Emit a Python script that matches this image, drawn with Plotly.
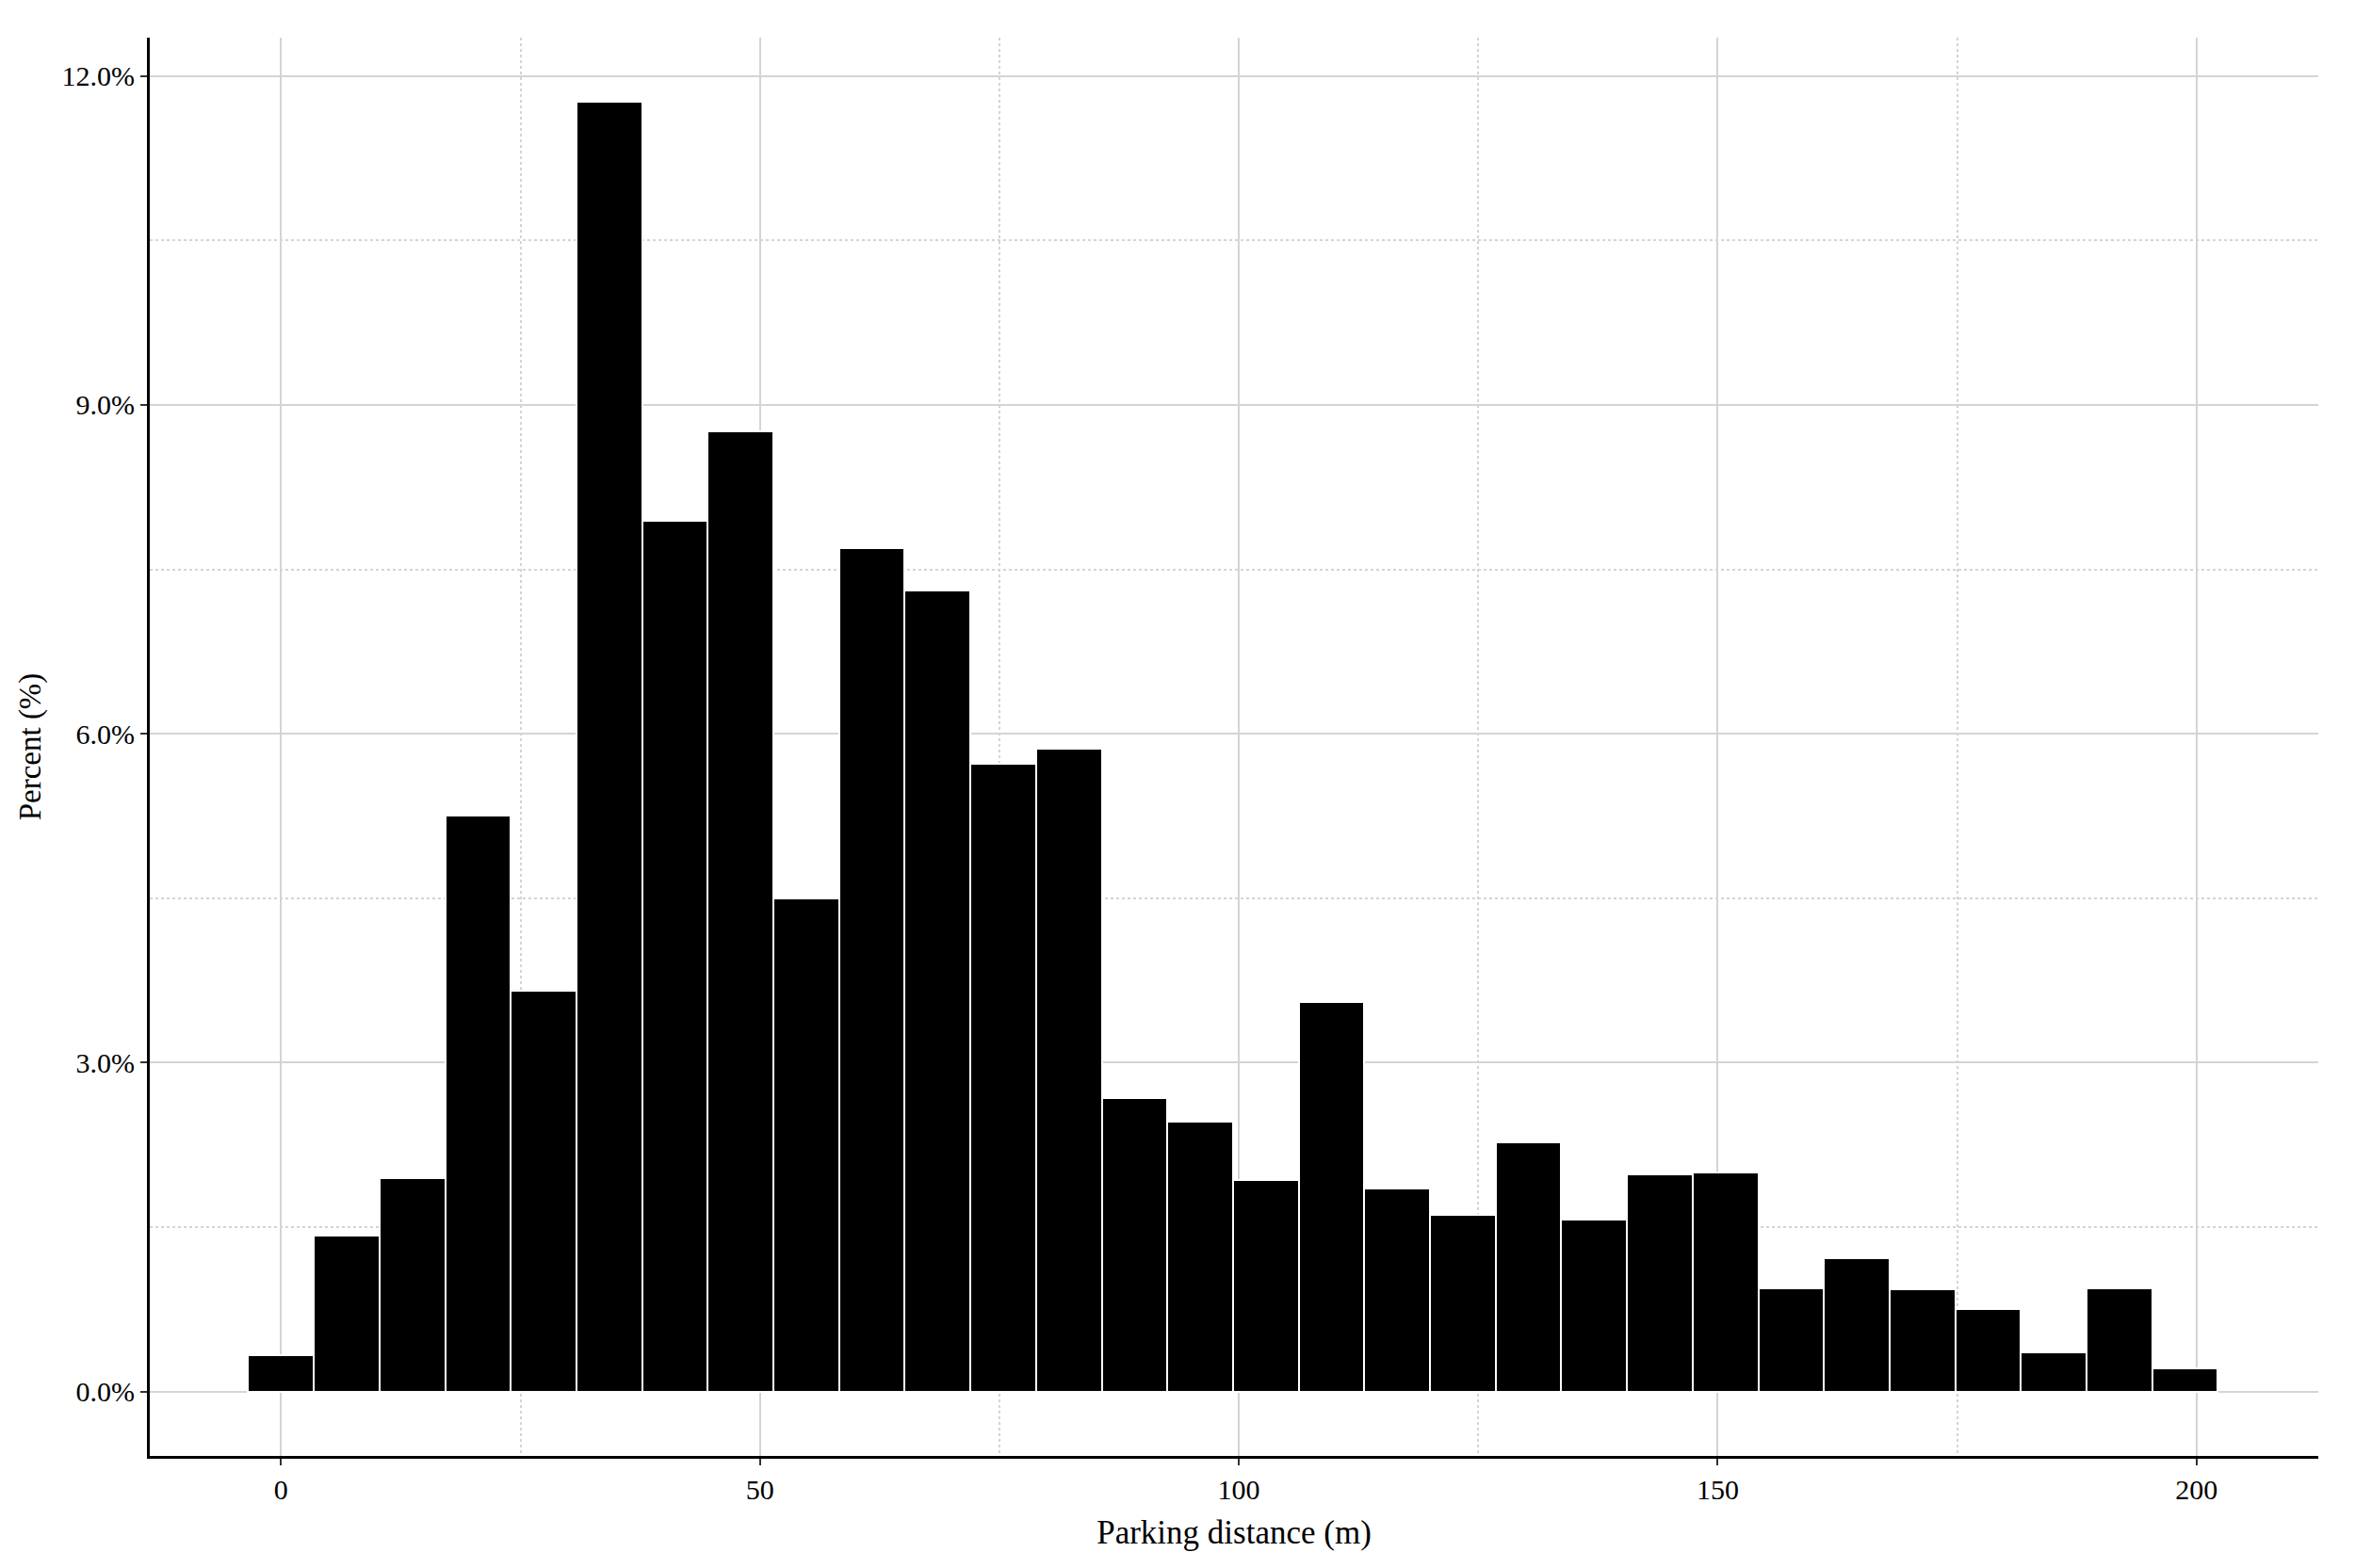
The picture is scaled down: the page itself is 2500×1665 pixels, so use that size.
import plotly.graph_objects as go

# histogram of parking distance, 30 bins (ggplot style, first bin centred on 0)
bin_width = 6.855
bin_index = list(range(30))
percent = [0.33, 1.42, 1.95, 5.25, 3.66, 11.77, 7.94, 8.76, 4.50, 7.69,
           7.31, 5.73, 5.86, 2.68, 2.46, 1.93, 3.55, 1.85, 1.61, 2.27,
           1.57, 1.98, 2.00, 0.94, 1.22, 0.93, 0.75, 0.36, 0.94, 0.21]
x_ticks = [0, 50, 100, 150, 200]
y_ticks = [0, 3, 6, 9, 12]
y_tick_labels = ["0.0%", "3.0%", "6.0%", "9.0%", "12.0%"]

centers = [i * bin_width for i in bin_index]

fig = go.Figure()
fig.add_trace(go.Bar(
    x=centers, y=percent, width=bin_width,
    marker=dict(color="black", line=dict(color="white", width=2)),
    showlegend=False,
))

font_family = "Liberation Serif"
grid_col = "#d4d4d4"

fig.update_layout(
    width=2500, height=1665,
    plot_bgcolor="white", paper_bgcolor="white",
    margin=dict(l=151, r=47, t=32, b=127),
    font=dict(family=font_family, color="black", size=30),
    bargap=0,
    xaxis=dict(
        range=[-13.7, 212.7],
        tickvals=x_ticks,
        ticks="outside", ticklen=7, tickwidth=2, tickcolor="#333333",
        showline=True, linecolor="black", linewidth=3,
        showgrid=True, gridcolor=grid_col, gridwidth=1.5,
        zeroline=False,
        minor=dict(tickvals=[25, 75, 125, 175], showgrid=True,
                   gridcolor=grid_col, griddash="dot", gridwidth=2, ticks=""),
        title=dict(text="Parking distance (m)", font=dict(size=35), standoff=18),
        tickfont=dict(size=30),
    ),
    yaxis=dict(
        range=[-0.588, 12.35],
        tickvals=y_ticks, ticktext=y_tick_labels,
        ticks="outside", ticklen=7, tickwidth=2, tickcolor="#333333",
        showline=True, linecolor="black", linewidth=3,
        showgrid=True, gridcolor=grid_col, gridwidth=1.5,
        zeroline=False,
        minor=dict(tickvals=[1.5, 4.5, 7.5, 10.5], showgrid=True,
                   gridcolor=grid_col, griddash="dot", gridwidth=2, ticks=""),
        title=dict(text="Percent (%)", font=dict(size=33), standoff=12),
        tickfont=dict(size=30),
    ),
)

fig.write_html("out.html")
